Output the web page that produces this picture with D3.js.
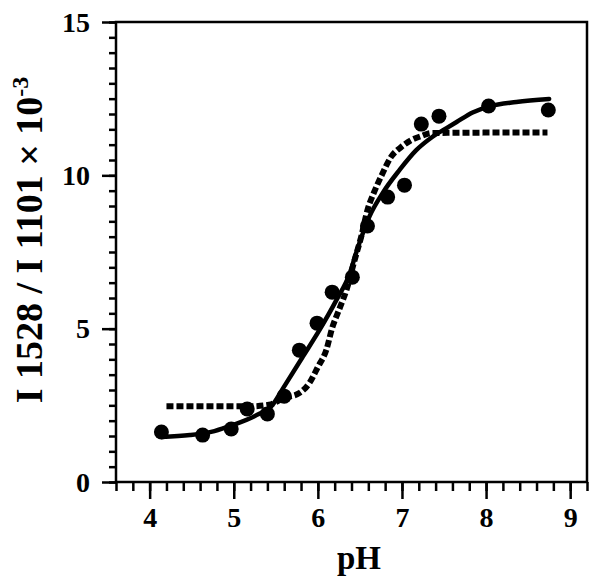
<!DOCTYPE html>
<html>
<head>
<meta charset="utf-8">
<script src="https://cdn.jsdelivr.net/npm/d3@7"></script>
<style>
  html, body { margin: 0; padding: 0; background: #fff; }
  svg { display: block; }
  text { font-family: "Liberation Serif", "Times New Roman", serif; font-weight: 700; }
</style>
</head>
<body>
<script>
// measured points
const phPoints = [4.14, 4.63, 4.97, 5.16, 5.40, 5.60, 5.78, 5.99, 6.17, 6.41, 6.59, 6.83, 7.03, 7.23, 7.44, 8.03, 8.74];
const ratioPoints = [1.63, 1.53, 1.73, 2.38, 2.22, 2.80, 4.30, 5.18, 6.19, 6.68, 8.35, 9.29, 9.68, 11.67, 11.93, 12.26, 12.13];

// fitted curve (solid)
const fitPh = [4.14, 4.48, 4.77, 4.99, 5.27, 5.46, 5.58, 5.82, 6.02, 6.22, 6.38, 6.47, 6.61, 6.77, 6.97, 7.17, 7.36, 7.53, 7.65, 7.84, 8.04, 8.36, 8.75];
const fitRatio = [1.47, 1.53, 1.66, 1.86, 2.18, 2.51, 3.03, 4.08, 4.96, 5.93, 6.81, 7.60, 8.64, 9.42, 10.17, 10.82, 11.25, 11.54, 11.74, 12.05, 12.25, 12.39, 12.49];

// simulated curve (dashed)
const simPh = [4.20, 5.22, 5.42, 5.60, 5.78, 5.90, 6.00, 6.10, 6.17, 6.26, 6.34, 6.43, 6.52, 6.59, 6.67, 6.76, 6.87, 6.99, 7.11, 7.23, 7.35, 8.73];
const simRatio = [2.47, 2.47, 2.52, 2.74, 2.90, 3.23, 3.75, 4.30, 5.02, 5.67, 6.26, 7.17, 8.05, 8.87, 9.46, 10.01, 10.60, 10.92, 11.15, 11.28, 11.38, 11.40];

const xTicks = [4, 5, 6, 7, 8, 9];
const yTicks = [0, 5, 10, 15];

const W = 602, H = 587;
const mLeft = 116, mRight = 587, mTop = 22, mBottom = 482;

const x = d3.scaleLinear().domain([3.6, 9.2]).range([mLeft, mRight]);
const y = d3.scaleLinear().domain([0, 15]).range([mBottom, mTop]);

const svg = d3.select("body")
  .append("svg")
  .attr("width", W)
  .attr("height", H);

svg.append("rect")
  .attr("width", W)
  .attr("height", H)
  .attr("fill", "#fff");

/* ---------- axes ---------- */

const xMinor = d3.range(36, 93, 2).map((d) => d / 10);
const yMinor = d3.range(0, 31, 1).map((d) => d / 2);

const styleAxis = (g) => {
  g.attr("font-family", null).attr("font-size", null);
  g.select(".domain").remove();
  g.selectAll("line").attr("stroke", "#000").attr("stroke-width", 2.5);
};

svg.append("g")
  .attr("transform", "translate(0," + mBottom + ")")
  .call(d3.axisBottom(x).tickValues(xMinor).tickSize(9).tickFormat(""))
  .call(styleAxis);

svg.append("g")
  .attr("transform", "translate(0," + mBottom + ")")
  .call(d3.axisBottom(x).tickValues(xTicks).tickSize(17).tickFormat(d3.format("d")))
  .call(styleAxis)
  .call((g) => g.selectAll("text")
    .attr("y", 0)
    .attr("dy", 0)
    .attr("transform", "translate(0,45)")
    .style("font-size", "28px")
    .attr("fill", "#000"));

svg.append("g")
  .attr("transform", "translate(" + mLeft + ",0)")
  .call(d3.axisLeft(y).tickValues(yMinor).tickSize(7).tickFormat(""))
  .call(styleAxis);

svg.append("g")
  .attr("transform", "translate(" + mLeft + ",0)")
  .call(d3.axisLeft(y).tickValues(yTicks).tickSize(14).tickFormat(d3.format("d")))
  .call(styleAxis)
  .call((g) => g.selectAll("text")
    .attr("x", -26)
    .attr("dy", "0.33em")
    .style("font-size", "28px")
    .attr("fill", "#000"));

// frame
svg.append("path")
  .attr("d", "M" + mLeft + "," + mBottom + "V" + mTop + "H" + mRight + "V" + mBottom + "H" + mLeft)
  .attr("fill", "none")
  .attr("stroke", "#000")
  .attr("stroke-width", 2.5);

/* ---------- curves ---------- */

const line = d3.line()
  .x((d) => x(d[0]))
  .y((d) => y(d[1]))
  .curve(d3.curveMonotoneX);

svg.append("path")
  .datum(simPh.map((p, i) => [p, simRatio[i]]))
  .attr("d", line)
  .attr("fill", "none")
  .attr("stroke", "#000")
  .attr("stroke-width", 6)
  .attr("stroke-dasharray", "7,3");

svg.append("path")
  .datum(fitPh.map((p, i) => [p, fitRatio[i]]))
  .attr("d", line)
  .attr("fill", "none")
  .attr("stroke", "#000")
  .attr("stroke-width", 4.5)
  .attr("stroke-linecap", "round");

svg.selectAll(".dot")
  .data(phPoints.map((p, i) => [p, ratioPoints[i]]))
  .enter()
  .append("circle")
  .attr("class", "dot")
  .attr("cx", (d) => x(d[0]))
  .attr("cy", (d) => y(d[1]))
  .attr("r", 7.5)
  .attr("fill", "#000");

/* ---------- labels ---------- */

svg.append("text")
  .attr("x", 359)
  .attr("y", 569)
  .attr("text-anchor", "middle")
  .style("font-size", "33px")
  .attr("fill", "#000")
  .text("pH");

const yLabel = svg.append("text")
  .attr("transform", "translate(42,240) rotate(-90)")
  .attr("text-anchor", "middle")
  .style("font-size", "38px")
  .attr("fill", "#000");

yLabel.append("tspan").text("I 1528 / I 1101 \u00d7 10");
yLabel.append("tspan")
  .style("font-size", "24px")
  .attr("dy", -14)
  .text("-3");
</script>
</body>
</html>
